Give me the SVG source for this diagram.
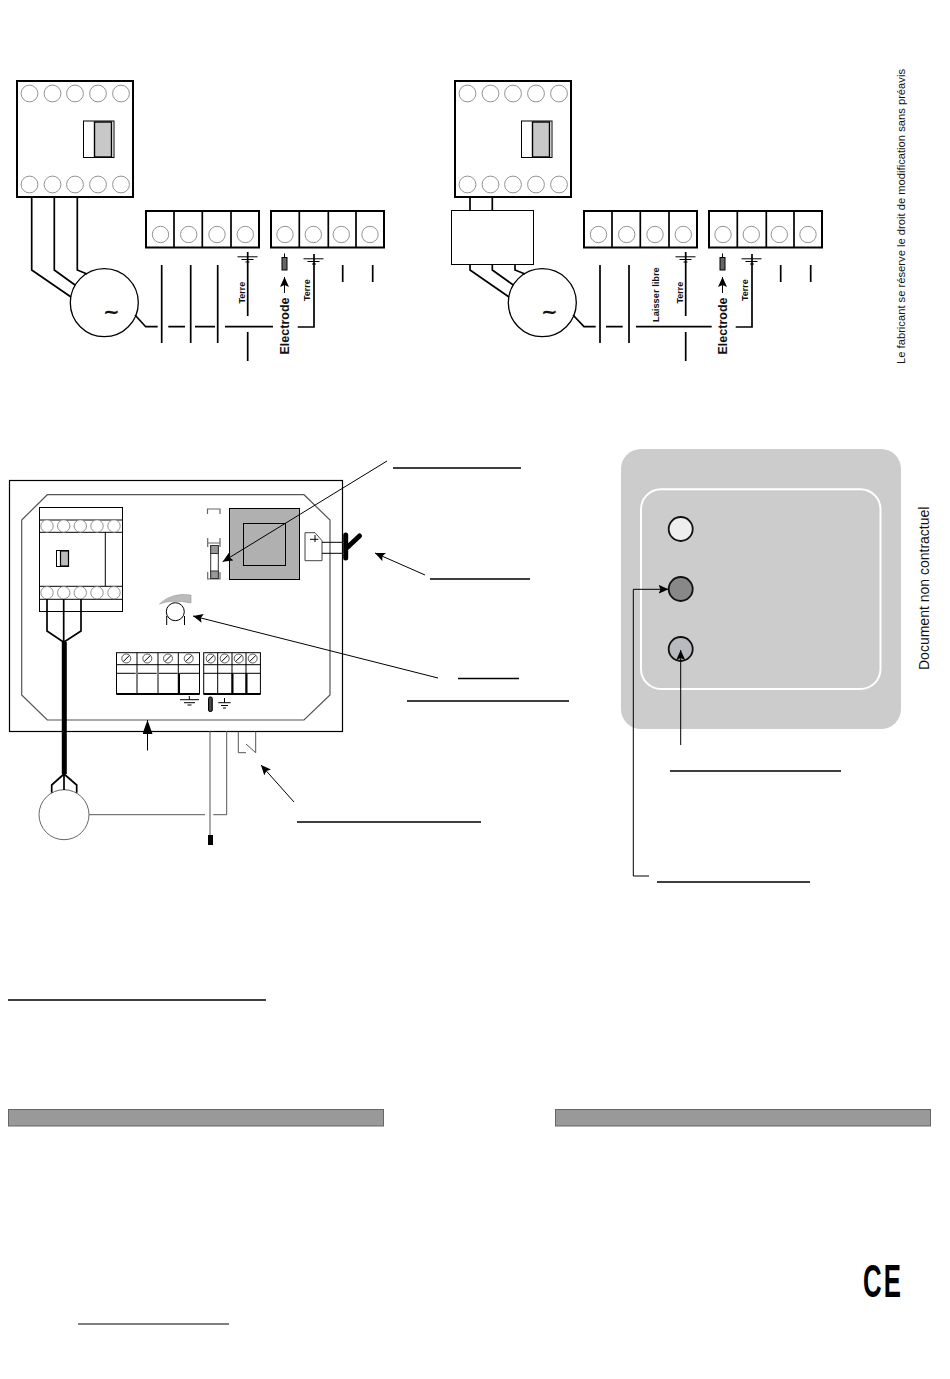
<svg xmlns="http://www.w3.org/2000/svg" width="950" height="1379" viewBox="0 0 950 1379">
<style>
text{font-family:"Liberation Sans",Arial,sans-serif;fill:#111}
.b{font-weight:bold}
.w{fill:none;stroke:#000;stroke-width:1.7}
.t{fill:none;stroke:#000;stroke-width:1}
.g{fill:none;stroke:#555;stroke-width:1}
.box{fill:#fff;stroke:#000;stroke-width:2}
.c{fill:#fff;stroke:#777;stroke-width:.8}
.a{fill:none;stroke:#000;stroke-width:1;marker-end:url(#ah)}
.u{stroke:#000;stroke-width:1.6}
.tilde{font-family:"DejaVu Sans",sans-serif;font-weight:bold;font-size:20px;text-anchor:middle}
</style>
<defs>
<marker id="ah" markerUnits="userSpaceOnUse" markerWidth="12" markerHeight="10" refX="10" refY="4.5" orient="auto"><path d="M0 0L10 4.5L0 9L2 4.5Z" fill="#000"/></marker>
<marker id="ahl" markerUnits="userSpaceOnUse" markerWidth="15" markerHeight="11" refX="14" refY="5" orient="auto"><path d="M0 0L14 5L0 10Z" fill="#000"/></marker>
<g id="contactor">
<rect class="box" x="17" y="81" width="116" height="116"/>
<g class="c"><circle cx="29.5" cy="93.5" r="8.4"/><circle cx="52.5" cy="93.5" r="8.4"/><circle cx="75" cy="93.5" r="8.4"/><circle cx="98" cy="93.5" r="8.4"/><circle cx="121" cy="93.5" r="8.4"/><circle cx="29.5" cy="184.5" r="8.4"/><circle cx="52.5" cy="184.5" r="8.4"/><circle cx="75" cy="184.5" r="8.4"/><circle cx="98" cy="184.5" r="8.4"/><circle cx="121" cy="184.5" r="8.4"/></g>
<rect x="83.5" y="121" width="30.5" height="36.5" fill="#fff" stroke="#000"/>
<rect x="94.5" y="122" width="17" height="35" fill="#c8c8c8" stroke="#000" stroke-width="1.4"/>
</g>
<g id="blocks">
<rect class="box" x="146" y="211" width="113" height="36.5"/>
<path class="w" d="M174 211V247M202.300 211V247M231 211V247"/>
<g class="c"><circle cx="160.500" cy="234.500" r="8.200"/><circle cx="188.700" cy="234.500" r="8.200"/><circle cx="217" cy="234.500" r="8.200"/><circle cx="245.300" cy="234.500" r="8.200"/></g>
<rect class="box" x="271" y="211" width="113" height="36.5"/>
<path class="w" d="M299.300 211V247M328.300 211V247M356 211V247"/>
<g class="c"><circle cx="285" cy="234.500" r="8.200"/><circle cx="313.300" cy="234.500" r="8.200"/><circle cx="341.300" cy="234.500" r="8.200"/><circle cx="370" cy="234.500" r="8.200"/></g>
</g>
<g id="tail">
<path class="t" d="M237.500 256.800H257.500M241.500 259.500H253.500M245.500 262H249.500M303.500 258.800H323.500M307.500 261.500H319.500M312 264H316"/>
<path class="t" d="M284.500 253.500V257.500"/>
<rect x="282" y="257.500" width="5" height="12.500" fill="#666" stroke="#000"/>
<path class="a" d="M284.500 293V277"/>
<path class="w" d="M247.700 252V316M247.700 332V361M314 254V327H297.700M342.700 265V282M372.700 265V282"/>
<text class="b" font-size="12.500" transform="translate(288.800 354.500) rotate(-90)">Electrode</text>
<text class="b" font-size="9" transform="translate(245 303.500) rotate(-90)">Terre</text>
<text class="b" font-size="9" transform="translate(310 301) rotate(-90)">Terre</text>
</g>
<g id="screws"><circle cx="0" cy="0" r="4.500" fill="#fff" stroke="#333" stroke-width=".8"/><path d="M-3 3L3-3" stroke="#000" stroke-width="1"/></g>
</defs>

<g id="contactor-left"><use href="#contactor"/></g>
<g id="motor-left"><circle cx="104.300" cy="302.700" r="34" fill="#fff" stroke="#000" stroke-width="1.300"/><text class="tilde" x="111.300" y="318">~</text></g>
<g id="terminals-left"><use href="#blocks"/><use href="#tail"/></g>

<g id="contactor-right"><use href="#contactor" x="438"/></g>
<g id="filter-right"><rect x="451.500" y="210.500" width="82" height="54" fill="#fff" stroke="#000"/></g>
<g id="motor-right"><circle cx="542.300" cy="302.700" r="34" fill="#fff" stroke="#000" stroke-width="1.300"/><text class="tilde" x="549.300" y="318">~</text></g>
<g id="terminals-right"><use href="#blocks" x="438"/><use href="#tail" x="438"/>
<text class="b" font-size="9.300" transform="translate(659 322) rotate(-90)">Laisser libre</text></g>

<text font-size="10.500" transform="translate(905 364) rotate(-90)" textLength="295" lengthAdjust="spacingAndGlyphs">Le fabricant se réserve le droit de modification sans préavis</text>

<g id="enclosure">
<rect x="9.500" y="480.500" width="333" height="251" fill="#fff" stroke="#000" stroke-width="1.200"/>
<path d="M47.300 494.700H304L330 520V695L304 720H47.300L21.700 695V520Z" fill="none" stroke="#555" stroke-width="1.200"/>
</g>
<g id="contactor-small">
<rect x="39.500" y="507.500" width="83" height="104" fill="#fff" stroke="#000"/>
<path class="t" d="M39.500 520H122.500M39.500 532.300H122.500M39.500 586.300H122.500M39.500 599.300H122.500M105.300 532V586"/>
<g class="c"><circle cx="47" cy="526" r="6.200"/><circle cx="63.700" cy="526" r="6.200"/><circle cx="80.300" cy="526" r="6.200"/><circle cx="97" cy="526" r="6.200"/><circle cx="114" cy="526" r="6.200"/><circle cx="47" cy="592.700" r="6.200"/><circle cx="63.700" cy="592.700" r="6.200"/><circle cx="80.300" cy="592.700" r="6.200"/><circle cx="97" cy="592.700" r="6.200"/><circle cx="114" cy="592.700" r="6.200"/></g>
<rect x="56.500" y="550.500" width="12" height="16" fill="#fff" stroke="#000"/>
<rect x="60.500" y="551" width="8" height="15" fill="#bbb" stroke="#000" stroke-width="1.200"/>
</g>
<g id="transformer">
<rect x="229.500" y="508.500" width="70" height="71" fill="#b0b0b0" stroke="#000"/>
<rect x="243.500" y="523.500" width="42" height="42" fill="#b0b0b0" stroke="#000"/>
</g>
<g id="fuse">
<path d="M207.500 514V509H220V514M207.700 538V547M220 538V547M207.700 543H220M207.700 572V579H220V572" fill="none" stroke="#666" stroke-width="1.200"/>
<rect x="210.700" y="545.500" width="7.600" height="33" fill="#fff" stroke="#333"/>
<rect x="210.700" y="545.500" width="7.600" height="8" fill="#999" stroke="#333"/>
<rect x="210.700" y="571" width="7.600" height="7.500" fill="#999" stroke="#333"/>
</g>
<g id="connector-plug">
<path d="M305 532.700H315L322 540.700V560.700H305Z" fill="#fff" stroke="#444"/>
<path class="t" d="M310 539.300H318.300M315 535V542M322 542.300H342.300M322 553.300H342.300"/>
<path d="M345.700 535V558M346.700 548L359.500 536" fill="none" stroke="#000" stroke-width="5" stroke-linecap="round"/>
</g>
<g id="potentiometer">
<path d="M159.500 604Q172 592 191 595V603Q172 599 159.500 604Z" fill="#bbb" stroke="#999" stroke-width=".6"/>
<circle cx="175.300" cy="611.700" r="9" fill="#fff" stroke="#000"/>
<path class="t" d="M166.700 616V625M184.500 616V625"/>
</g>
<g id="terminals-small">
<rect x="116.500" y="652.700" width="83" height="41.300" fill="#fff" stroke="#000"/>
<rect x="203.700" y="652.700" width="56.700" height="41.300" fill="#fff" stroke="#000"/>
<path class="t" d="M116.500 664.700H199.500M203.700 664.700H260.400M137 652.700V694M158 652.700V694M178.300 652.700V694M217.700 652.700V694M232 652.700V694M246 652.700V694M116.500 673.300H135.700M138 673.300H156.700M159 673.300H177.700M179.300 673.300H199.500M217.700 673.300H260.400M203.700 673.300H217.700"/>
<path d="M116.500 694H199.500M203.700 694H260.400" stroke="#000" stroke-width="2"/>
<path d="M179 673.500V694M232.500 673.500V694M246.500 673.500V694" stroke="#000" stroke-width="2"/>
<use href="#screws" x="126.300" y="658.500"/><use href="#screws" x="147.300" y="658.500"/><use href="#screws" x="168" y="658.500"/><use href="#screws" x="188.700" y="658.500"/>
<use href="#screws" x="210.700" y="658.500"/><use href="#screws" x="224.700" y="658.500"/><use href="#screws" x="238.700" y="658.500"/><use href="#screws" x="252.700" y="658.500"/>
<path class="t" d="M180 699.700H199M184 702.700H195M187.500 705H191.500M189.300 696V699.700M218.300 702.700H230.700M221 705.500H228M223 708H226M224.500 698V702.700"/>
<rect x="208.500" y="697" width="3.800" height="14.500" rx="1.500" fill="#444" stroke="#000"/>
</g>
<g id="sensor">
<circle cx="64" cy="814.700" r="25" fill="#fff" stroke="#666"/>
</g>
<g id="electrode-small"><rect x="208" y="835" width="5" height="10" fill="#000"/></g>
<g id="hook"><path class="g" d="M238.300 731.700V752.700H246M246 744L255.700 752.700V731.700"/></g>

<g id="panel">
<rect x="621" y="449" width="280" height="280" rx="20" fill="#ccc"/>
<rect x="641" y="489.300" width="239.500" height="199.700" rx="20" fill="none" stroke="#fff" stroke-width="2"/>
</g>
<g id="led-1"><circle cx="680.700" cy="529" r="12" fill="#eee" stroke="#111" stroke-width="1.800"/></g>
<g id="led-2"><circle cx="680.700" cy="589" r="12" fill="#888" stroke="#111" stroke-width="1.800"/></g>
<g id="led-3"><circle cx="680.700" cy="649" r="12" fill="#b9b9c0" stroke="#111" stroke-width="1.800"/></g>

<g id="connectors">
<path class="w" d="M31.700 197V270L71 297M54.300 197V270L75 285M77.300 197V270L87 274"/>
<path class="w" d="M135 315L145.700 326.700H157.700M168.300 326.700H185M195 326.700H215M225 326.700H273"/>
<path class="w" d="M161.700 265V343M190.700 265V343M217.700 265V343"/>
<path class="w" d="M470 197V211M492.300 197V211M470 264V270L509 297M492.300 264V270L513.300 285M515 264V270L525 274"/>
<path class="w" d="M573 315L584 326.700H595.700M606 326.700H622.700M636 326.700H711.700"/>
<path class="w" d="M600 265V343M629 265V343"/>
<path class="a" d="M387 461L222.700 561.700"/>
<path class="a" d="M425 575L375 553"/>
<path class="a" d="M438 678L193 616"/>
<path class="t" d="M147.500 750.500V720" style="marker-end:url(#ahl)"/>
<path class="a" d="M294 802L261 765"/>
<path class="a" d="M680.700 745V650"/>
<path class="a" d="M649 876H633.300V589.300H668.500"/>
<path class="w" d="M47 599V631L63.700 642.300L81 631V599M63.700 599V642"/>
<path d="M64.300 642V774" fill="none" stroke="#000" stroke-width="5"/>
<path class="w" d="M51.700 792.700V785L64 774L76.700 785V792.700M64 774V790"/>
<path class="g" d="M89 814.700H205M213.300 814.700H226.700V731M210 731V835"/>
</g>

<text font-size="14" transform="translate(929 670) rotate(-90)">Document non contractuel</text>

<g id="underlines">
<path class="u" d="M393 468H521M430 579H530M458 678.500H519M407 701H569M297 822H481M670 771H841M657 882H810M8 1000H266"/>
<path d="M78 1324H229" stroke="#000" stroke-width="1"/>
</g>
<g id="bars">
<rect x="8.500" y="1109.500" width="375" height="16.500" fill="#999" stroke="#666"/>
<rect x="555.500" y="1109.500" width="375" height="16.500" fill="#999" stroke="#666"/>
</g>
<text font-size="46" font-weight="bold" letter-spacing="4" transform="translate(863 1297) scale(.56 1)" style="fill:#000">CE</text>
</svg>
